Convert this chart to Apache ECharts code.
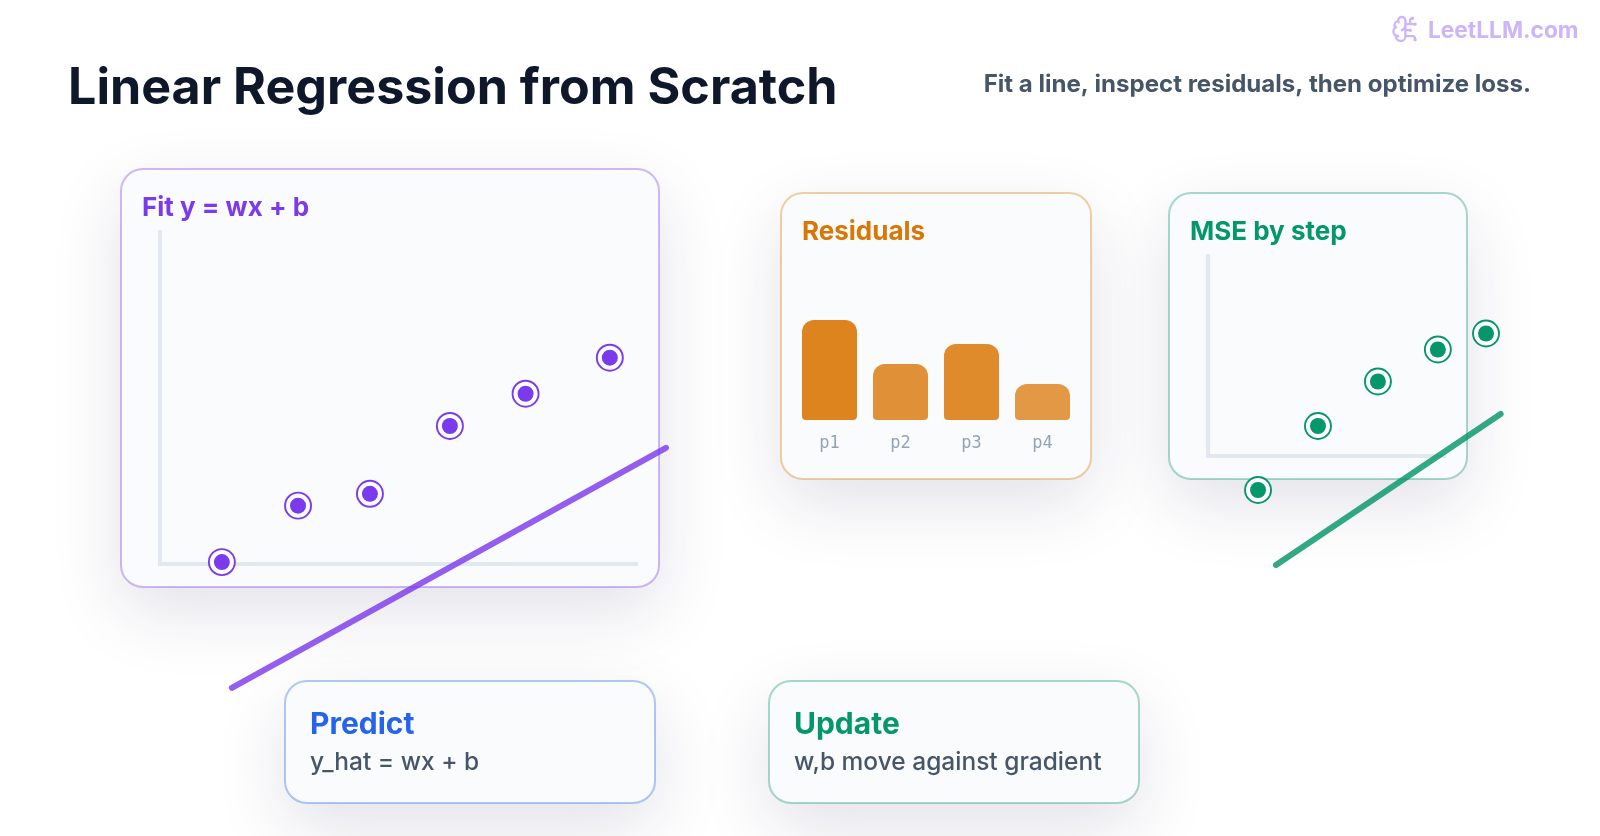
<!DOCTYPE html>
<html><head><meta charset="utf-8">
<style>html,body{margin:0;padding:0;background:#fff}#c{width:1600px;height:836px}</style>
<script src="https://cdn.jsdelivr.net/npm/echarts@6/dist/echarts.min.js"></script>
</head><body><div id="c"></div>
<script>
const fitX = [1.30, 2.90, 4.41, 6.09, 7.68, 9.45];
const fitY = [0.04, 1.23, 1.48, 2.91, 3.59, 4.35];
const fitLineX = [1.51, 10.63];
const fitLineY = [-2.61, 2.45];
const residualCategories = ['p1', 'p2', 'p3', 'p4'];
const residualValues = [2.5, 1.4, 1.9, 0.9];
const mseX = [1.06, 2.33, 3.60, 4.87, 5.89];
const mseY = [-0.68, 0.60, 1.49, 2.13, 2.45];
const mseLineX = [1.44, 6.20];
const mseLineY = [-2.18, 0.84];

const zip = (a, b) => a.map((v, i) => [v, b[i]]);
const PURPLE = '#7c3aed', ORANGE = '#d97706', GREEN = '#059669', BLUE = '#2563eb', SLATE = '#475569';
const FF = 'Inter';
const barOpacity = [0.9, 0.8, 0.85, 0.75];

function card(x, y, w, h, color) {
  return { type: 'rect', z: -10, shape: { x, y, width: w, height: h, r: 22 },
    style: { fill: '#fafbfd', stroke: color, lineWidth: 2, strokeOpacity: 0.35,
      shadowBlur: 70, shadowOffsetY: 24, shadowColor: 'rgba(30,27,75,0.13)' } };
}
function text(x, y, t, font, fill, align) {
  return { type: 'text', z: -5, x, y, style: { text: t, font: font + ' ' + FF, fill,
    textAlign: align || 'left', textVerticalAlign: 'middle' } };
}
const brainPath = 'M12 5a3 3 0 1 0-5.997.125 4 4 0 0 0-2.526 5.77 4 4 0 0 0 .556 6.588A4 4 0 1 0 12 18Z M9 13a4.5 4.5 0 0 0 3-4 M6.003 5.125A3 3 0 0 0 6.401 6.5 M3.477 10.896a4 4 0 0 1 .585-.396 M6 18a4 4 0 0 1-1.967-.516 M12 13h4 M12 18h6a2 2 0 0 1 2 2v1 M12 8h8 M16 8V5a2 2 0 0 1 2-2 M15.5 13a.5.5 0 1 0 1 0a.5.5 0 1 0-1 0 M17.5 3a.5.5 0 1 0 1 0a.5.5 0 1 0-1 0 M19.5 21a.5.5 0 1 0 1 0a.5.5 0 1 0-1 0 M19.5 8a.5.5 0 1 0 1 0a.5.5 0 1 0-1 0';

function plotAxis(max) {
  return { type: 'value', min: 0, max, axisLine: { show: true, onZero: false, lineStyle: { color: '#e2e8f0', width: 4, cap: 'square' } },
    axisTick: { show: false }, axisLabel: { show: false }, splitLine: { show: false } };
}
function ring(idx, data, color) {
  return { type: 'scatter', xAxisIndex: idx, yAxisIndex: idx, clip: false, z: 4, symbol: 'circle', symbolSize: 26,
    silent: true, data, itemStyle: { color: '#ffffff', borderColor: color, borderWidth: 1.9, opacity: 1 } };
}
function dot(idx, data, color) {
  return { type: 'scatter', xAxisIndex: idx, yAxisIndex: idx, clip: false, z: 5, symbol: 'circle', symbolSize: 16,
    silent: true, data, itemStyle: { color, opacity: 1 } };
}
function fitLine(idx, xs, ys, color) {
  return { type: 'custom', coordinateSystem: 'cartesian2d', xAxisIndex: idx, yAxisIndex: idx, clip: false, z: 3, silent: true,
    data: [[xs[0], ys[0], xs[1], ys[1]]],
    encode: { x: [0, 2], y: [1, 3] },
    renderItem: (params, api) => {
      const a = api.coord([api.value(0), api.value(1)]);
      const b = api.coord([api.value(2), api.value(3)]);
      return { type: 'line', shape: { x1: a[0], y1: a[1], x2: b[0], y2: b[1] },
        style: { stroke: color, lineWidth: 6, lineCap: 'round', opacity: 0.82, fill: null } };
    } };
}

const chart = echarts.init(document.getElementById('c'), null, { renderer: 'canvas' });
chart.setOption({
  animation: false,
  backgroundColor: '#ffffff',
  textStyle: { fontFamily: FF },
  graphic: { elements: [
    card(121, 169, 538, 418, PURPLE),
    card(781, 193, 310, 286, ORANGE),
    card(1169, 193, 298, 286, GREEN),
    card(285, 681, 370, 122, BLUE),
    card(769, 681, 370, 122, GREEN),
    text(68, 89, 'Linear Regression from Scratch', '700 50.2px', '#0f172a'),
    text(1531, 85, 'Fit a line, inspect residuals, then optimize loss.', '700 24.05px', SLATE, 'right'),
    text(1428, 31, 'LeetLLM.com', '700 22.7px', '#ccb5fb'),
    text(142, 208, 'Fit y = wx + b', '700 26px', PURPLE),
    text(802, 232, 'Residuals', '700 26px', ORANGE),
    text(1190, 232, 'MSE by step', '700 26px', GREEN),
    text(310, 725, 'Predict', '700 30px', BLUE),
    text(310, 763, 'y_hat = wx + b', '500 24.5px', SLATE),
    text(794, 725, 'Update', '700 30px', GREEN),
    text(794, 763, 'w,b move against gradient', '500 24.5px', SLATE)
  ] },
  grid: [
    { left: 160, top: 232, width: 476, height: 332 },
    { left: 794, top: 304, width: 284, height: 116 },
    { left: 1208, top: 256, width: 236, height: 200 }
  ],
  xAxis: [
    Object.assign(plotAxis(10), { gridIndex: 0 }),
    { gridIndex: 1, type: 'category', data: residualCategories, axisLine: { show: false }, axisTick: { show: false },
      axisLabel: { color: '#94a3b8', fontFamily: 'DejaVu Sans Mono', fontSize: 17, margin: 15 } },
    Object.assign(plotAxis(5), { gridIndex: 2 })
  ],
  yAxis: [
    Object.assign(plotAxis(7), { gridIndex: 0 }),
    { gridIndex: 1, type: 'value', min: 0, max: 2.9, show: false },
    Object.assign(plotAxis(4), { gridIndex: 2 })
  ],
  series: [
    { type: 'custom', coordinateSystem: 'none', silent: true, z: 1, data: [0],
      renderItem: () => ({ type: 'path', shape: { pathData: brainPath, x: 1393, y: 17, width: 23, height: 24 },
        style: { fill: 'none', stroke: '#ccb5fb', lineWidth: 2.3, lineCap: 'round', lineJoin: 'round' } }) },
    fitLine(0, fitLineX, fitLineY, PURPLE),
    ring(0, zip(fitX, fitY), PURPLE),
    dot(0, zip(fitX, fitY), PURPLE),
    { type: 'bar', xAxisIndex: 1, yAxisIndex: 1, barWidth: 55, silent: true,
      data: residualValues.map((v, i) => ({ value: v, itemStyle: { color: ORANGE, opacity: barOpacity[i], borderRadius: [12, 12, 4, 4] } })) },
    fitLine(2, mseLineX, mseLineY, GREEN),
    ring(2, zip(mseX, mseY), GREEN),
    dot(2, zip(mseX, mseY), GREEN)
  ]
});
</script></body></html>
